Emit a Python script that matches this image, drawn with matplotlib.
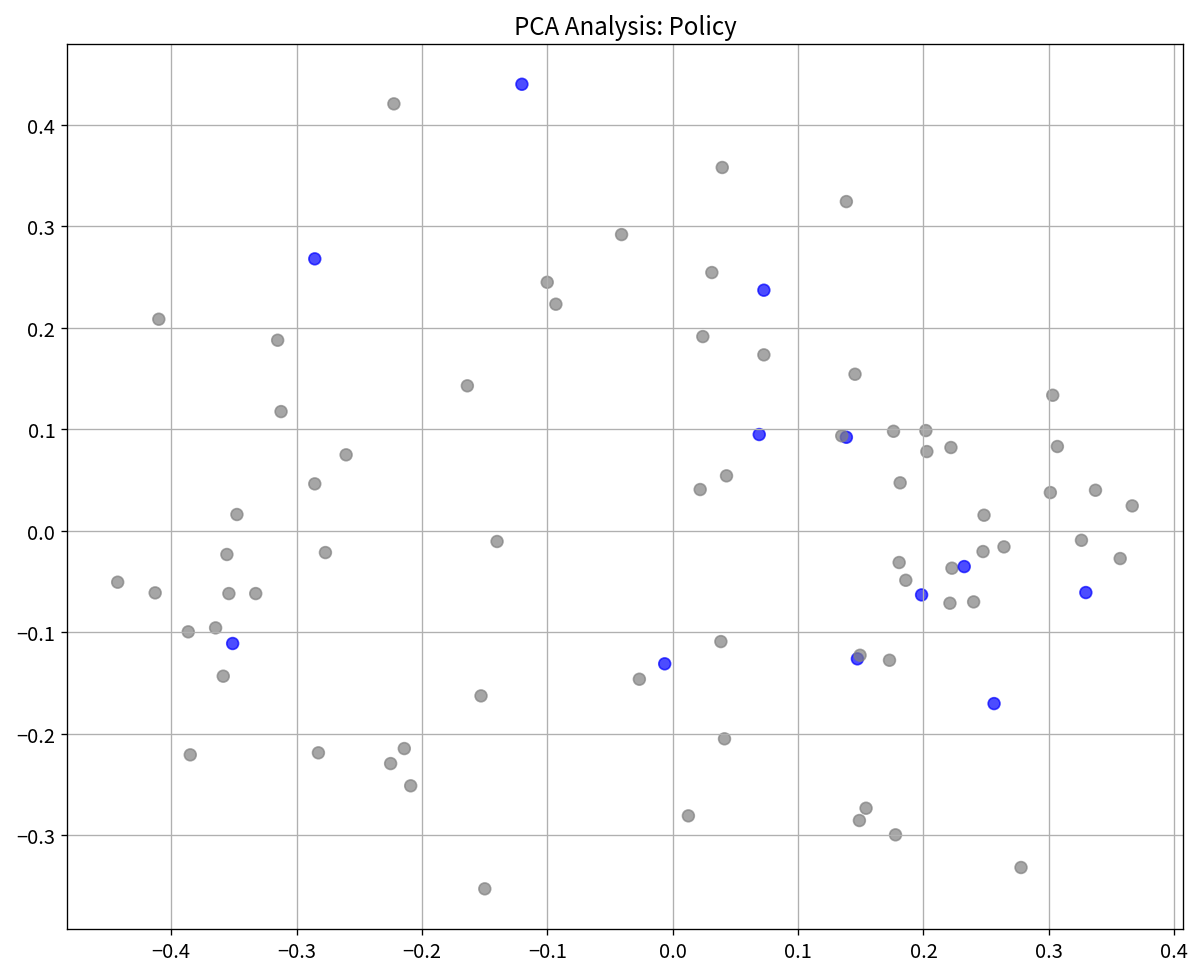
import matplotlib
matplotlib.use('Agg')
import matplotlib.pyplot as plt

plt.rcParams['font.family'] = ['Noto Sans CJK JP', 'DejaVu Sans']

# PCA座標 (PC1, PC2) と強調フラグ
pc1 = [-0.2224, -0.4099, -0.3151, -0.3124, -0.2605, -0.2855,
       0.0395, 0.1385, -0.0408, -0.1001, -0.0932, 0.0312, 0.0240, 0.0727,
       -0.1638, 0.0429, 0.0219,
       0.1454, 0.3031, 0.1761, 0.2019, 0.2027, 0.2219, 0.3068, 0.1814,
       0.3012, 0.3372,
       -0.3476, -0.3556, -0.2770, -0.4427, -0.4128, -0.3540, -0.3326,
       -0.3864, -0.3646, -0.3585, -0.3848, -0.2826, -0.2141, -0.2250, -0.2090,
       -0.1401, 0.0384, -0.0266, -0.1529, 0.0413, 0.0125, -0.1499,
       0.3665, 0.2483, 0.3260, 0.2642, 0.2475, 0.3569, 0.1806, 0.2227,
       0.1859, 0.2211, 0.2400, 0.1729, 0.1542, 0.1489, 0.1777, 0.2778,
       # 強調
       -0.2855, -0.1203, 0.0727, 0.0690, 0.1385, -0.3510, -0.0064,
       0.2325, 0.1985, 0.3295, 0.1473, 0.2563,
       0.1348, 0.1494]
pc2 = [0.4207, 0.2085, 0.1878, 0.1175, 0.0749, 0.0463,
       0.3580, 0.3244, 0.2919, 0.2449, 0.2233, 0.2545, 0.1914, 0.1734,
       0.1429, 0.0542, 0.0407,
       0.1543, 0.1336, 0.0981, 0.0988, 0.0781, 0.0821, 0.0831, 0.0473,
       0.0377, 0.0400,
       0.0161, -0.0233, -0.0214, -0.0506, -0.0611, -0.0618, -0.0618,
       -0.0995, -0.0956, -0.1432, -0.2207, -0.2187, -0.2145, -0.2293, -0.2512,
       -0.0105, -0.1091, -0.1462, -0.1626, -0.2049, -0.2808, -0.3527,
       0.0246, 0.0154, -0.0093, -0.0158, -0.0204, -0.0273, -0.0312, -0.0368,
       -0.0487, -0.0713, -0.0700, -0.1275, -0.2733, -0.2854, -0.2995, -0.3317,
       0.2680, 0.4400, 0.2371, 0.0949, 0.0922, -0.1110, -0.1310,
       -0.0352, -0.0631, -0.0608, -0.1261, -0.1702,
       0.0936, -0.1226]
highlight = [False] * 65 + [True] * 12 + [False] * 2

colors = ['blue' if h else 'gray' for h in highlight]

fig, ax = plt.subplots(figsize=(10, 8.1583), dpi=120)
fig.subplots_adjust(left=0.0558, right=0.9858, bottom=0.05, top=0.954)

ax.scatter(pc1, pc2, c=colors, alpha=0.7, s=50)
ax.set_title('PCA Analysis: Policy', fontsize=14.5)
ax.tick_params(labelsize=12)
ax.grid(True)

fig.savefig('out.png')
